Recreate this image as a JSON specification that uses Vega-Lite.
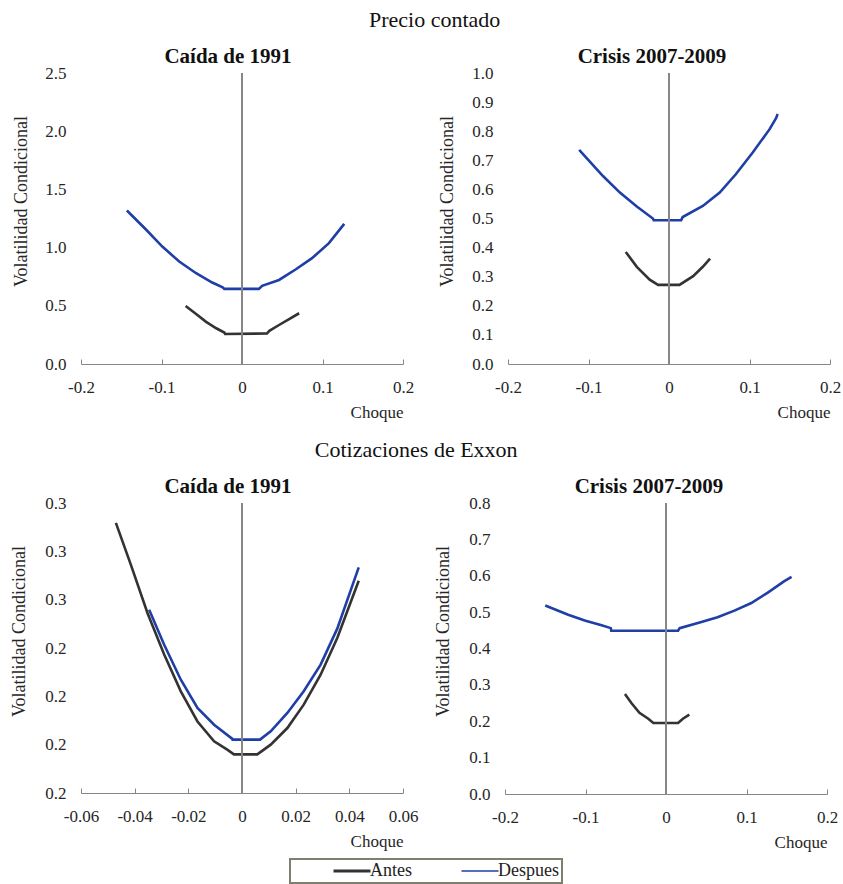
{
  "$schema": "https://vega.github.io/schema/vega-lite/v6.json",
  "padding": {"left": 10, "top": 9, "right": 2, "bottom": 2},
  "config": {
    "font": "Liberation Serif",
    "view": {"stroke": null},
    "axis": {"grid": false, "labelFont": "Liberation Serif", "titleFont": "Liberation Serif", "labelColor": "#262626", "titleColor": "#262626", "titleFontWeight": "normal", "labelFontSize": 17},
    "axisX": {"domainColor": "#868686", "tickColor": "#868686", "tickSize": -5, "labelPadding": 20, "titleAnchor": "end", "titleFontSize": 17, "titlePadding": 9, "labelFlush": false},
    "axisY": {"domain": false, "ticks": false, "labelPadding": 15, "titleFontSize": 18, "titleY": 128, "titlePadding": 14},
    "legend": {"layout": {"bottom": {"anchor": "middle"}}},
    "title": {"font": "Liberation Serif", "color": "#111111"}
  },
  "datasets": {
    "curvas": [
      {"panel": "p1", "serie": "Despues", "x": -0.143, "y": 1.319},
      {"panel": "p1", "serie": "Despues", "x": -0.119, "y": 1.153},
      {"panel": "p1", "serie": "Despues", "x": -0.099, "y": 1.009},
      {"panel": "p1", "serie": "Despues", "x": -0.078, "y": 0.88},
      {"panel": "p1", "serie": "Despues", "x": -0.057, "y": 0.78},
      {"panel": "p1", "serie": "Despues", "x": -0.037, "y": 0.7},
      {"panel": "p1", "serie": "Despues", "x": -0.024, "y": 0.659},
      {"panel": "p1", "serie": "Despues", "x": -0.022, "y": 0.645},
      {"panel": "p1", "serie": "Despues", "x": 0.021, "y": 0.645},
      {"panel": "p1", "serie": "Despues", "x": 0.025, "y": 0.671},
      {"panel": "p1", "serie": "Despues", "x": 0.046, "y": 0.722},
      {"panel": "p1", "serie": "Despues", "x": 0.067, "y": 0.814},
      {"panel": "p1", "serie": "Despues", "x": 0.087, "y": 0.909},
      {"panel": "p1", "serie": "Despues", "x": 0.108, "y": 1.038},
      {"panel": "p1", "serie": "Despues", "x": 0.127, "y": 1.204},
      {"panel": "p1", "serie": "Antes", "x": -0.07, "y": 0.499},
      {"panel": "p1", "serie": "Antes", "x": -0.057, "y": 0.43},
      {"panel": "p1", "serie": "Antes", "x": -0.045, "y": 0.364},
      {"panel": "p1", "serie": "Antes", "x": -0.032, "y": 0.307},
      {"panel": "p1", "serie": "Antes", "x": -0.022, "y": 0.27},
      {"panel": "p1", "serie": "Antes", "x": -0.021, "y": 0.258},
      {"panel": "p1", "serie": "Antes", "x": 0.031, "y": 0.262},
      {"panel": "p1", "serie": "Antes", "x": 0.034, "y": 0.285},
      {"panel": "p1", "serie": "Antes", "x": 0.046, "y": 0.335},
      {"panel": "p1", "serie": "Antes", "x": 0.058, "y": 0.384},
      {"panel": "p1", "serie": "Antes", "x": 0.071, "y": 0.436},
      {"panel": "p2", "serie": "Despues", "x": -0.1116, "y": 0.736},
      {"panel": "p2", "serie": "Despues", "x": -0.082, "y": 0.646},
      {"panel": "p2", "serie": "Despues", "x": -0.061, "y": 0.589},
      {"panel": "p2", "serie": "Despues", "x": -0.04, "y": 0.541},
      {"panel": "p2", "serie": "Despues", "x": -0.02, "y": 0.5},
      {"panel": "p2", "serie": "Despues", "x": -0.019, "y": 0.494},
      {"panel": "p2", "serie": "Despues", "x": 0.015, "y": 0.494},
      {"panel": "p2", "serie": "Despues", "x": 0.017, "y": 0.505},
      {"panel": "p2", "serie": "Despues", "x": 0.042, "y": 0.543},
      {"panel": "p2", "serie": "Despues", "x": 0.063, "y": 0.589},
      {"panel": "p2", "serie": "Despues", "x": 0.083, "y": 0.652},
      {"panel": "p2", "serie": "Despues", "x": 0.104, "y": 0.727},
      {"panel": "p2", "serie": "Despues", "x": 0.125, "y": 0.807},
      {"panel": "p2", "serie": "Despues", "x": 0.133, "y": 0.845},
      {"panel": "p2", "serie": "Despues", "x": 0.135, "y": 0.859},
      {"panel": "p2", "serie": "Antes", "x": -0.0537, "y": 0.385},
      {"panel": "p2", "serie": "Antes", "x": -0.04, "y": 0.334},
      {"panel": "p2", "serie": "Antes", "x": -0.024, "y": 0.29},
      {"panel": "p2", "serie": "Antes", "x": -0.0136, "y": 0.272},
      {"panel": "p2", "serie": "Antes", "x": 0.013, "y": 0.272},
      {"panel": "p2", "serie": "Antes", "x": 0.03, "y": 0.302},
      {"panel": "p2", "serie": "Antes", "x": 0.042, "y": 0.334},
      {"panel": "p2", "serie": "Antes", "x": 0.051, "y": 0.362},
      {"panel": "p3", "serie": "Antes", "x": -0.047, "y": 0.2897},
      {"panel": "p3", "serie": "Antes", "x": -0.0414, "y": 0.268},
      {"panel": "p3", "serie": "Antes", "x": -0.0352, "y": 0.243},
      {"panel": "p3", "serie": "Antes", "x": -0.029, "y": 0.2216},
      {"panel": "p3", "serie": "Antes", "x": -0.0228, "y": 0.2026},
      {"panel": "p3", "serie": "Antes", "x": -0.0166, "y": 0.187},
      {"panel": "p3", "serie": "Antes", "x": -0.0104, "y": 0.1767},
      {"panel": "p3", "serie": "Antes", "x": -0.0055, "y": 0.1724},
      {"panel": "p3", "serie": "Antes", "x": -0.003, "y": 0.17},
      {"panel": "p3", "serie": "Antes", "x": 0.0057, "y": 0.17},
      {"panel": "p3", "serie": "Antes", "x": 0.0107, "y": 0.175},
      {"panel": "p3", "serie": "Antes", "x": 0.0169, "y": 0.1836},
      {"panel": "p3", "serie": "Antes", "x": 0.023, "y": 0.1957},
      {"panel": "p3", "serie": "Antes", "x": 0.0293, "y": 0.2112},
      {"panel": "p3", "serie": "Antes", "x": 0.0355, "y": 0.2302},
      {"panel": "p3", "serie": "Antes", "x": 0.0435, "y": 0.2598},
      {"panel": "p3", "serie": "Despues", "x": -0.0346, "y": 0.2448},
      {"panel": "p3", "serie": "Despues", "x": -0.029, "y": 0.2267},
      {"panel": "p3", "serie": "Despues", "x": -0.0228, "y": 0.2086},
      {"panel": "p3", "serie": "Despues", "x": -0.0166, "y": 0.194},
      {"panel": "p3", "serie": "Despues", "x": -0.0104, "y": 0.1853},
      {"panel": "p3", "serie": "Despues", "x": -0.0036, "y": 0.178},
      {"panel": "p3", "serie": "Despues", "x": -0.0035, "y": 0.1776},
      {"panel": "p3", "serie": "Despues", "x": 0.0067, "y": 0.1776},
      {"panel": "p3", "serie": "Despues", "x": 0.0107, "y": 0.1819},
      {"panel": "p3", "serie": "Despues", "x": 0.0169, "y": 0.1914},
      {"panel": "p3", "serie": "Despues", "x": 0.023, "y": 0.2026},
      {"panel": "p3", "serie": "Despues", "x": 0.0293, "y": 0.2164},
      {"panel": "p3", "serie": "Despues", "x": 0.0355, "y": 0.235},
      {"panel": "p3", "serie": "Despues", "x": 0.0435, "y": 0.2667},
      {"panel": "p4", "serie": "Despues", "x": -0.15, "y": 0.518},
      {"panel": "p4", "serie": "Despues", "x": -0.1215, "y": 0.493},
      {"panel": "p4", "serie": "Despues", "x": -0.101, "y": 0.477},
      {"panel": "p4", "serie": "Despues", "x": -0.08, "y": 0.464},
      {"panel": "p4", "serie": "Despues", "x": -0.0686, "y": 0.456},
      {"panel": "p4", "serie": "Despues", "x": -0.068, "y": 0.449},
      {"panel": "p4", "serie": "Despues", "x": 0.015, "y": 0.449},
      {"panel": "p4", "serie": "Despues", "x": 0.017, "y": 0.456},
      {"panel": "p4", "serie": "Despues", "x": 0.044, "y": 0.473},
      {"panel": "p4", "serie": "Despues", "x": 0.064, "y": 0.486},
      {"panel": "p4", "serie": "Despues", "x": 0.085, "y": 0.504},
      {"panel": "p4", "serie": "Despues", "x": 0.106, "y": 0.525},
      {"panel": "p4", "serie": "Despues", "x": 0.126, "y": 0.553},
      {"panel": "p4", "serie": "Despues", "x": 0.147, "y": 0.585},
      {"panel": "p4", "serie": "Despues", "x": 0.156, "y": 0.597},
      {"panel": "p4", "serie": "Antes", "x": -0.051, "y": 0.275},
      {"panel": "p4", "serie": "Antes", "x": -0.043, "y": 0.25},
      {"panel": "p4", "serie": "Antes", "x": -0.033, "y": 0.223},
      {"panel": "p4", "serie": "Antes", "x": -0.022, "y": 0.207},
      {"panel": "p4", "serie": "Antes", "x": -0.0157, "y": 0.195},
      {"panel": "p4", "serie": "Antes", "x": 0.015, "y": 0.195},
      {"panel": "p4", "serie": "Antes", "x": 0.021, "y": 0.207},
      {"panel": "p4", "serie": "Antes", "x": 0.029, "y": 0.218}
    ]
  },
  "data": {"name": "curvas"},
  "spacing": 19,
  "vconcat": [
    {
      "title": {"text": "Precio contado", "font": "Liberation Serif", "fontSize": 22, "fontWeight": "normal", "anchor": "middle", "offset": 14, "dx": 8},
      "spacing": 24,
      "hconcat": [
        {
          "width": 322, "height": 291,
          "title": {"text": "Caída de 1991", "font": "Liberation Serif", "fontSize": 21, "fontWeight": "bold", "offset": -3, "dx": -14},
          "layer": [
            {
              "transform": [{"filter": "datum.panel === 'p1'"}],
              "mark": {"type": "line", "strokeWidth": 2.6},
              "encoding": {
                "x": {"field": "x", "type": "quantitative", "scale": {"domain": [-0.2, 0.2], "nice": false, "zero": false}, "axis": {"title": "Choque", "values": [-0.2, -0.1, 0, 0.1, 0.2], "labelExpr": "datum.value == 0 ? '0' : (datum.value < 0 ? '-' : '') + format(abs(datum.value), '.1f')"}},
                "y": {"field": "y", "type": "quantitative", "scale": {"domain": [0, 2.5], "nice": false, "zero": false}, "axis": {"title": "Volatilidad Condicional", "values": [0, 0.5, 1, 1.5, 2, 2.5], "format": ".1f"}},
                "color": {"field": "serie", "type": "nominal", "scale": {"domain": ["Antes", "Despues"], "range": ["#333333", "#1f3ea6"]}, "legend": {"title": "\u00a0", "titleOrient": "left", "titlePadding": 50, "titleFontSize": 18, "orient": "bottom", "offset": 9, "direction": "horizontal", "columns": 2, "symbolType": "stroke", "symbolSize": 1369, "symbolStrokeWidth": 2, "labelFontSize": 18, "labelFont": "Liberation Serif", "labelColor": "#222222", "labelOffset": 9, "columnPadding": 46, "padding": 3, "strokeColor": "#7f7f6f", "fillColor": "#ffffff", "encode": {"legend": {"update": {"strokeWidth": {"value": 2}}}, "symbols": {"update": {"strokeWidth": {"signal": "datum.value === 'Antes' ? 3 : 1.5"}}}}}}
              }
            },
            {"mark": {"type": "rule", "color": "#868686", "strokeWidth": 1}, "encoding": {"x": {"datum": 0, "type": "quantitative"}}}
          ]
        },
        {
          "width": 322, "height": 291,
          "title": {"text": "Crisis 2007-2009", "font": "Liberation Serif", "fontSize": 21, "fontWeight": "bold", "offset": -3, "dx": -17},
          "layer": [
            {
              "transform": [{"filter": "datum.panel === 'p2'"}],
              "mark": {"type": "line", "strokeWidth": 2.6},
              "encoding": {
                "x": {"field": "x", "type": "quantitative", "scale": {"domain": [-0.2, 0.2], "nice": false, "zero": false}, "axis": {"title": "Choque", "values": [-0.2, -0.1, 0, 0.1, 0.2], "labelExpr": "datum.value == 0 ? '0' : (datum.value < 0 ? '-' : '') + format(abs(datum.value), '.1f')"}},
                "y": {"field": "y", "type": "quantitative", "scale": {"domain": [0, 1], "nice": false, "zero": false}, "axis": {"title": "Volatilidad Condicional", "values": [0, 0.1, 0.2, 0.3, 0.4, 0.5, 0.6, 0.7, 0.8, 0.9, 1.0], "format": ".1f", "titlePadding": 15}},
                "color": {"field": "serie", "type": "nominal", "scale": {"domain": ["Antes", "Despues"], "range": ["#333333", "#1f3ea6"]}, "legend": {"title": "\u00a0", "titleOrient": "left", "titlePadding": 50, "titleFontSize": 18, "orient": "bottom", "offset": 9, "direction": "horizontal", "columns": 2, "symbolType": "stroke", "symbolSize": 1369, "symbolStrokeWidth": 2, "labelFontSize": 18, "labelFont": "Liberation Serif", "labelColor": "#222222", "labelOffset": 9, "columnPadding": 46, "padding": 3, "strokeColor": "#7f7f6f", "fillColor": "#ffffff", "encode": {"legend": {"update": {"strokeWidth": {"value": 2}}}, "symbols": {"update": {"strokeWidth": {"signal": "datum.value === 'Antes' ? 3 : 1.5"}}}}}}
              }
            },
            {"mark": {"type": "rule", "color": "#868686", "strokeWidth": 1}, "encoding": {"x": {"datum": 0, "type": "quantitative"}}}
          ]
        }
      ]
    },
    {
      "title": {"text": "Cotizaciones de Exxon", "font": "Liberation Serif", "fontSize": 22, "fontWeight": "normal", "anchor": "middle", "offset": 14, "dx": -8},
      "spacing": 16,
      "hconcat": [
        {
          "width": 322, "height": 290,
          "title": {"text": "Caída de 1991", "font": "Liberation Serif", "fontSize": 21, "fontWeight": "bold", "offset": -3, "dx": -14},
          "layer": [
            {
              "transform": [{"filter": "datum.panel === 'p3'"}],
              "mark": {"type": "line", "strokeWidth": 2.6},
              "encoding": {
                "x": {"field": "x", "type": "quantitative", "scale": {"domain": [-0.06, 0.06], "nice": false, "zero": false}, "axis": {"title": "Choque", "values": [-0.06, -0.04, -0.02, 0, 0.02, 0.04, 0.06], "labelExpr": "datum.value == 0 ? '0' : (datum.value < 0 ? '-' : '') + format(abs(datum.value), '.2f')"}},
                "y": {"field": "y", "type": "quantitative", "scale": {"domain": [0.15, 0.3], "nice": false, "zero": false}, "axis": {"title": "Volatilidad Condicional", "values": [0.15, 0.175, 0.2, 0.225, 0.25, 0.275, 0.3], "labelExpr": "format(datum.value + 0.000001, '.1f')", "titlePadding": 16}},
                "color": {"field": "serie", "type": "nominal", "scale": {"domain": ["Antes", "Despues"], "range": ["#333333", "#1f3ea6"]}, "legend": {"title": "\u00a0", "titleOrient": "left", "titlePadding": 50, "titleFontSize": 18, "orient": "bottom", "offset": 9, "direction": "horizontal", "columns": 2, "symbolType": "stroke", "symbolSize": 1369, "symbolStrokeWidth": 2, "labelFontSize": 18, "labelFont": "Liberation Serif", "labelColor": "#222222", "labelOffset": 9, "columnPadding": 46, "padding": 3, "strokeColor": "#7f7f6f", "fillColor": "#ffffff", "encode": {"legend": {"update": {"strokeWidth": {"value": 2}}}, "symbols": {"update": {"strokeWidth": {"signal": "datum.value === 'Antes' ? 3 : 1.5"}}}}}}
              }
            },
            {"mark": {"type": "rule", "color": "#868686", "strokeWidth": 1}, "encoding": {"x": {"datum": 0, "type": "quantitative"}}}
          ]
        },
        {
          "width": 322, "height": 291,
          "title": {"text": "Crisis 2007-2009", "font": "Liberation Serif", "fontSize": 21, "fontWeight": "bold", "offset": -3, "dx": -17},
          "layer": [
            {
              "transform": [{"filter": "datum.panel === 'p4'"}],
              "mark": {"type": "line", "strokeWidth": 2.6},
              "encoding": {
                "x": {"field": "x", "type": "quantitative", "scale": {"domain": [-0.2, 0.2], "nice": false, "zero": false}, "axis": {"title": "Choque", "values": [-0.2, -0.1, 0, 0.1, 0.2], "labelExpr": "datum.value == 0 ? '0' : (datum.value < 0 ? '-' : '') + format(abs(datum.value), '.1f')"}},
                "y": {"field": "y", "type": "quantitative", "scale": {"domain": [0, 0.8], "nice": false, "zero": false}, "axis": {"title": "Volatilidad Condicional", "values": [0, 0.1, 0.2, 0.3, 0.4, 0.5, 0.6, 0.7, 0.8], "format": ".1f", "titlePadding": 16}},
                "color": {"field": "serie", "type": "nominal", "scale": {"domain": ["Antes", "Despues"], "range": ["#333333", "#1f3ea6"]}, "legend": {"title": "\u00a0", "titleOrient": "left", "titlePadding": 50, "titleFontSize": 18, "orient": "bottom", "offset": 9, "direction": "horizontal", "columns": 2, "symbolType": "stroke", "symbolSize": 1369, "symbolStrokeWidth": 2, "labelFontSize": 18, "labelFont": "Liberation Serif", "labelColor": "#222222", "labelOffset": 9, "columnPadding": 46, "padding": 3, "strokeColor": "#7f7f6f", "fillColor": "#ffffff", "encode": {"legend": {"update": {"strokeWidth": {"value": 2}}}, "symbols": {"update": {"strokeWidth": {"signal": "datum.value === 'Antes' ? 3 : 1.5"}}}}}}
              }
            },
            {"mark": {"type": "rule", "color": "#868686", "strokeWidth": 1}, "encoding": {"x": {"datum": 0, "type": "quantitative"}}}
          ]
        }
      ]
    }
  ]
}
